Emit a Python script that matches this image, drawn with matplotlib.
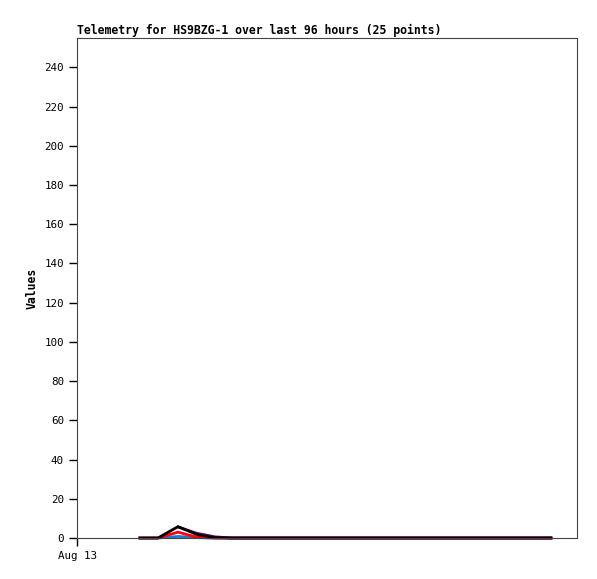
import matplotlib
matplotlib.use('Agg')
import matplotlib.pyplot as plt
import numpy as np

# hours after Aug 13 00:00
hours = [14.7, 18.9, 23.6, 28.0, 32.2, 36.1, 40.0, 43.9, 47.9, 51.8, 55.7, 59.6, 63.5,
         67.4, 71.4, 75.3, 79.2, 83.1, 87.0, 90.9, 94.9, 98.8, 102.7, 106.6, 110.7]
black = [0, 0, 5.8, 1.8, 0.2] + [0] * 20
red = [0, 0, 3.0, 0.4, 0] + [0] * 20
blue = [0, 0, 0.8, 0.2, 0] + [0] * 20
purple = [np.nan, np.nan, 5.6, 2.4, 0.6] + [0] * 20

fig = plt.figure(figsize=(5.97, 5.79), dpi=100)
ax = fig.add_axes([0.129, 0.0708, 0.8375, 0.8636])

ax.plot(hours, blue, color='#1f77d4', lw=2, clip_on=False)
ax.plot(hours, red, color='red', lw=2, clip_on=False)
ax.plot(hours, purple, color='#800080', lw=2, clip_on=False)
ax.plot(hours, black, color='black', lw=2, clip_on=False)

ax.set_xlim(0, 116.8)
ax.set_ylim(0, 255)
ax.set_yticks(range(0, 241, 20))
ax.set_xticks([0])
ax.set_xticklabels(['Aug 13'])
ax.tick_params(labelsize=7.8, length=6, width=1, direction='out')
for lab in ax.get_xticklabels() + ax.get_yticklabels():
    lab.set_family('DejaVu Sans Mono')
for s in ax.spines.values():
    s.set_color('#444444')

ax.set_ylabel('Values', family='DejaVu Sans Mono', fontweight='bold', fontsize=8.3)
ax.set_title('Telemetry for HS9BZG-1 over last 96 hours (25 points)', loc='left',
             family='DejaVu Sans Mono', fontweight='bold', fontsize=8.3, pad=3)

fig.savefig('out.png', dpi=100)
